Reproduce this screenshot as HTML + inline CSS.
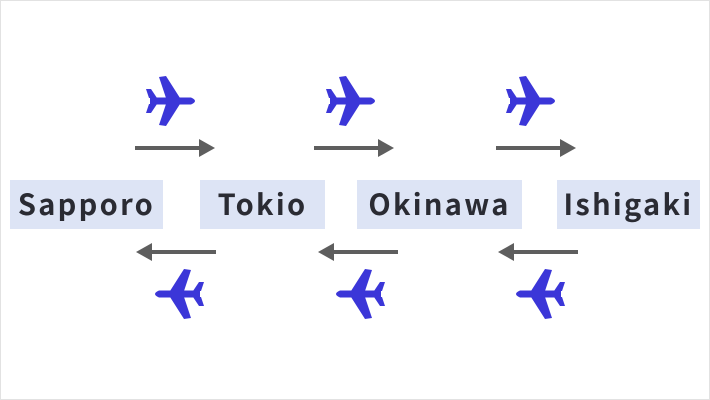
<!DOCTYPE html>
<html><head><style>
body{margin:0;background:#fff}
.wrap{position:relative;width:708px;height:398px;border:1px solid #e2e2e2;overflow:hidden;background:#fff}
.lbl{position:absolute;top:179px;height:45px;padding-bottom:4px;background:#dde4f5;font:bold 29px "Noto Sans CJK JP","Liberation Sans",sans-serif;color:#2a2b33;display:flex;align-items:center;justify-content:center;letter-spacing:2.3px;white-space:nowrap}
</style></head><body>
<div class="wrap">
<div class="lbl" style="left:9px;width:153px">Sapporo</div>
<div class="lbl" style="left:199px;width:125px">Tokio</div>
<div class="lbl" style="left:356px;width:165px">Okinawa</div>
<div class="lbl" style="left:556px;width:143px">Ishigaki</div>
<svg width="708" height="398" style="position:absolute;left:0;top:0">
<defs>
<g id="p">
<path fill="#3b36d8" d="M-22,-3.5 L19,-3.5 Q27,0 19,3.5 L-22,3.5 Z"/>
<path fill="#3b36d8" d="M-6,-3 L-13,-24 L-6,-25 L8,-3 Z M-6,3 L-13,24 L-6,25 L8,3 Z"/>
<path fill="#3b36d8" d="M-23,-3 L-26,-12 L-21,-12 L-15,-3 Z M-23,3 L-26,12 L-21,12 L-15,3 Z"/>
</g>
</defs>
<g fill="#5e5e5e">
<rect x="134" y="145" width="66" height="4"/><path d="M198,138 L214,147 L198,156Z"/>
<rect x="313" y="145" width="66" height="4"/><path d="M377,138 L393,147 L377,156Z"/>
<rect x="495" y="145" width="66" height="4"/><path d="M559,138 L575,147 L559,156Z"/>
<rect x="149" y="249" width="66" height="4"/><path d="M151,242 L135,251 L151,260Z"/>
<rect x="331" y="249" width="66" height="4"/><path d="M333,242 L317,251 L333,260Z"/>
<rect x="511" y="249" width="66" height="4"/><path d="M513,242 L497,251 L513,260Z"/>
</g>
<use href="#p" transform="translate(171,100)"/>
<use href="#p" transform="translate(351,100)"/>
<use href="#p" transform="translate(531,100)"/>
<use href="#p" transform="translate(177,293) scale(-1,1)"/>
<use href="#p" transform="translate(358,293) scale(-1,1)"/>
<use href="#p" transform="translate(538,293) scale(-1,1)"/>
</svg>
</div>
</body></html>
